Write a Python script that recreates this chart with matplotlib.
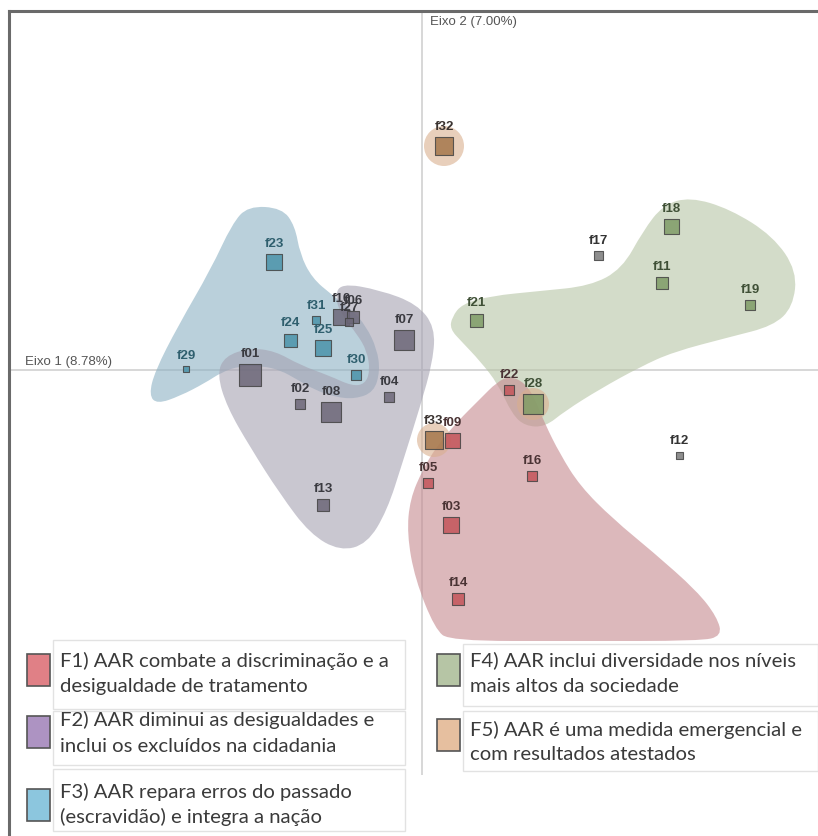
import numpy as np
import matplotlib
matplotlib.use("Agg")
from matplotlib import pyplot as plt
from matplotlib.path import Path
from matplotlib.patches import PathPatch, Circle, Rectangle
from matplotlib.lines import Line2D

# pontos (Eixo 1, Eixo 2), tamanho e grupo
names = ["f32", "f23", "f17", "f18", "f11", "f19", "f21", "f31", "f10", "f06",
         "f27", "f07", "f24", "f25", "f30", "f29", "f01", "f02", "f08", "f04",
         "f22", "f28", "f33", "f09", "f12", "f16", "f05", "f13", "f03", "f14"]
dim1 = [0.22, -1.48, 1.76, 2.49, 2.40, 3.28, 0.54, -1.06, -0.81, -0.69,
        -0.73, -0.18, -1.32, -0.99, -0.66, -2.36, -1.72, -1.22, -0.91, -0.33,
        0.87, 1.11, 0.12, 0.30, 2.57, 1.10, 0.06, -0.99, 0.29, 0.36]
dim2 = [2.24, 1.08, 1.15, 1.44, 0.87, 0.65, 0.50, 0.50, 0.53, 0.53,
        0.48, 0.30, 0.30, 0.22, -0.05, 0.01, -0.05, -0.34, -0.42, -0.27,
        -0.20, -0.34, -0.70, -0.70, -0.85, -1.06, -1.13, -1.35, -1.55, -2.29]
sizes = [18, 16, 9, 15, 12, 10, 13, 8, 16, 12,
         8, 20, 13, 16, 10, 6, 22, 10, 20, 10,
         10, 20, 18, 15, 7, 10, 10, 12, 16, 12]
groups = ["F5", "F3", "--", "F4", "F4", "F4", "F4", "F3", "F2", "F2",
          "F2", "F2", "F3", "F3", "F3", "F3", "F2", "F2", "F2", "F2",
          "F1", "F4", "F5", "F1", "--", "F1", "F1", "F2", "F1", "F1"]

# contornos dos agrupamentos
hull_f3 = [(-1.74, 1.64), (-1.40, 1.62), (-1.27, 1.44), (-1.22, 1.16), (-1.10, 0.92),
           (-0.90, 0.75), (-0.70, 0.60), (-0.56, 0.44), (-0.45, 0.21), (-0.42, -0.01),
           (-0.48, -0.22), (-0.67, -0.29), (-0.87, -0.27), (-1.07, -0.20), (-1.24, -0.10),
           (-1.42, 0.00), (-1.60, 0.04), (-1.82, 0.04), (-2.00, -0.02), (-2.17, -0.13),
           (-2.42, -0.26), (-2.65, -0.34), (-2.73, -0.25), (-2.67, -0.01), (-2.44, 0.44),
           (-2.11, 1.01), (-1.90, 1.46)]
hull_f2 = [(-0.82, 0.87), (-0.42, 0.80), (-0.05, 0.66), (0.13, 0.43), (0.11, 0.09),
           (-0.02, -0.37), (-0.19, -0.91), (-0.35, -1.41), (-0.55, -1.74), (-0.82, -1.81),
           (-1.12, -1.64), (-1.42, -1.24), (-1.72, -0.77), (-1.95, -0.37), (-2.05, -0.04),
           (-1.97, 0.14), (-1.72, 0.22), (-1.47, 0.19), (-1.22, 0.05), (-0.92, -0.06),
           (-0.70, -0.16), (-0.57, -0.14), (-0.52, -0.01), (-0.55, 0.19), (-0.65, 0.36),
           (-0.79, 0.53), (-0.87, 0.71)]
hull_f4 = [(0.30, 0.53), (0.40, 0.66), (0.68, 0.74), (1.18, 0.79), (1.68, 0.84),
           (2.00, 1.01), (2.21, 1.39), (2.41, 1.65), (2.68, 1.73), (3.08, 1.61),
           (3.51, 1.34), (3.75, 0.99), (3.71, 0.63), (3.51, 0.44), (3.08, 0.33),
           (2.51, 0.18), (2.18, 0.03), (1.78, -0.19), (1.43, -0.41), (1.23, -0.57),
           (1.03, -0.56), (0.90, -0.44), (0.76, -0.14), (0.58, 0.09), (0.40, 0.28),
           (0.28, 0.41)]
hull_f1 = [(0.75, -0.12), (0.88, -0.06), (1.03, -0.13), (1.13, -0.29), (1.23, -0.54),
           (1.38, -0.84), (1.58, -1.16), (1.91, -1.49), (2.31, -1.82), (2.75, -2.21),
           (2.95, -2.47), (3.00, -2.66), (2.78, -2.71), (1.53, -2.71), (0.28, -2.71),
           (0.13, -2.59), (-0.07, -2.09), (-0.15, -1.64), (-0.12, -1.29), (0.01, -0.99),
           (0.15, -0.76), (0.35, -0.52), (0.58, -0.29)]
halo_pts = ["f32", "f33", "f28"]
halo_r = [0.20, 0.17, 0.16]

legend_text = [
    ["F1) AAR combate a discriminação e a", "desigualdade de tratamento"],
    ["F2) AAR diminui as desigualdades e", "inclui os excluídos na cidadania"],
    ["F3) AAR repara erros do passado", "(escravidão) e integra a nação"],
    ["F4) AAR inclui diversidade nos níveis", "mais altos da sociedade"],
    ["F5) AAR é uma medida emergencial e", "com resultados atestados"],
]

mark_col = {"F1": "#c4545a", "F2": "#6c6778", "F3": "#4a93aa", "F4": "#7f9c66",
            "F5": "#a5774c", "--": "#7a7a7a"}
label_col = {"F1": "#4a3334", "F2": "#3a3a40", "F3": "#2f5f6e", "F4": "#3f5036",
             "F5": "#3a3330", "--": "#333333"}
hull_col = {"F1": "#c5898f", "F2": "#a5a2b2", "F3": "#8cb1c3", "F4": "#b7c5a5",
            "F5": "#d9af8e"}
swatch_col = ["#e08086", "#ad93c2", "#8cc6de", "#b6c5a5", "#e6bf9f"]

W, H = 818, 837
fig = plt.figure(figsize=(W / 100, H / 100), dpi=100)
ax = fig.add_axes([0, 0, 1, 1])
ax.set_xlim(-4.22, 3.96)
ax.set_ylim(-4.66, 3.71)
ax.axis("off")


def smooth_patch(pts, color):
    # contorno suave fechado (B-spline quadratica via CURVE3)
    p = np.array(pts)
    n = len(p)
    mids = (p + np.roll(p, -1, axis=0)) / 2
    verts = [mids[-1]]
    codes = [Path.MOVETO]
    for i in range(n):
        verts += [p[i], mids[i]]
        codes += [Path.CURVE3, Path.CURVE3]
    verts.append(mids[-1])
    codes.append(Path.CLOSEPOLY)
    return PathPatch(Path(verts, codes), facecolor=color, edgecolor="none",
                     alpha=0.6, zorder=2)


# eixos
ax.hlines(0, -4.12, 3.96, color="#d4d4d4", lw=1.3, zorder=1)
ax.vlines(0, -4.05, 3.59, color="#d4d4d4", lw=1.3, zorder=1)

for hull, g in [(hull_f3, "F3"), (hull_f2, "F2"), (hull_f4, "F4"), (hull_f1, "F1")]:
    ax.add_patch(smooth_patch(hull, hull_col[g]))

for nm, r in zip(halo_pts, halo_r):
    i = names.index(nm)
    ax.add_patch(Circle((dim1[i], dim2[i]), r, facecolor=hull_col["F5"],
                        edgecolor="none", alpha=0.6, zorder=3))

for i, nm in enumerate(names):
    g = groups[i]
    ax.scatter(dim1[i], dim2[i], s=(0.72 * sizes[i]) ** 2, marker="s",
               c=mark_col[g], edgecolors="#444444", linewidths=0.8,
               alpha=0.85, zorder=5)
    ax.annotate(nm, (dim1[i], dim2[i]), xytext=(0, (sizes[i] / 2 + 11) * 0.72),
                textcoords="offset points", ha="center", va="center",
                fontsize=9.5, fontweight="bold", color=label_col[g],
                family="Liberation Sans", zorder=6)

ax.text(-3.97, 0.09, "Eixo 1 (8.78%)", fontsize=9.5, color="#555555",
        family="Liberation Sans", ha="left", va="center")
ax.text(0.08, 3.49, "Eixo 2 (7.00%)", fontsize=9.5, color="#555555",
        family="Liberation Sans", ha="left", va="center")


def fx(x):
    return x / W


def fy(y):
    return 1 - y / H


# moldura
fig.add_artist(Line2D([fx(9), fx(9)], [0, fy(12)], color="#6a6a6a", lw=2.2))
fig.add_artist(Line2D([fx(9), 1], [fy(12), fy(12)], color="#6a6a6a", lw=2.2))

# legenda
boxes = [(53, 641, 405, 710), (53, 712, 405, 766), (53, 770, 405, 832),
         (463, 645, 818, 707), (463, 712, 818, 772)]
swatches = [(27, 655), (27, 717), (27, 790), (437, 655), (437, 720)]
lines_y = [(661, 687), (720, 746), (792, 817), (660, 686), (730, 755)]
text_x = [60, 60, 60, 470, 470]

for k in range(5):
    x0, y0, x1, y1 = boxes[k]
    fig.add_artist(Rectangle((fx(x0), fy(y1)), fx(x1 - x0), (y1 - y0) / H,
                             transform=fig.transFigure, facecolor="white",
                             edgecolor="#e2e2e2", lw=1.0, zorder=7))
    sx, sy = swatches[k]
    fig.add_artist(Rectangle((fx(sx), fy(sy + 32)), fx(23), 32 / H,
                             transform=fig.transFigure, facecolor=swatch_col[k],
                             edgecolor="#555555", lw=1.2, zorder=8))
    for line, ly in zip(legend_text[k], lines_y[k]):
        fig.text(fx(text_x[k]), fy(ly), line, fontsize=14.6, family="Lato",
                 color="#3a3a3a", ha="left", va="center", zorder=9)

fig.savefig("out.png", dpi=100)
